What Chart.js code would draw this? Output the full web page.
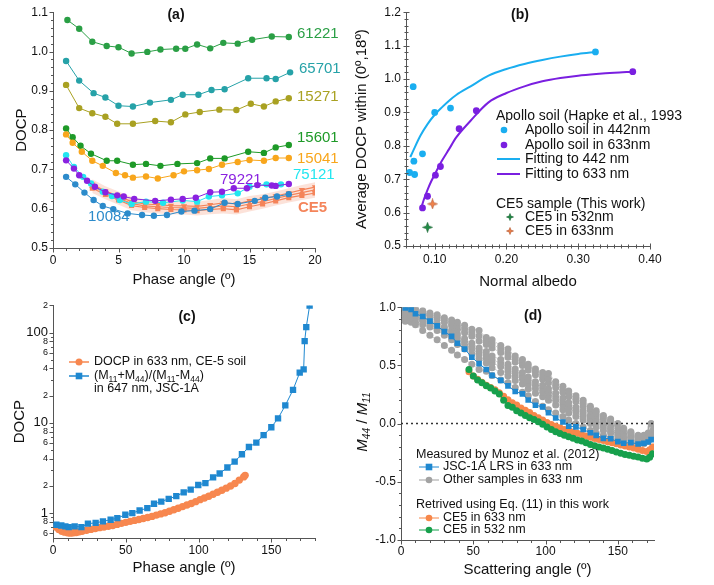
<!DOCTYPE html>
<html>
<head>
<meta charset="utf-8">
<script src="https://cdn.jsdelivr.net/npm/chart.js@4.4.0/dist/chart.umd.min.js"></script>
<style>
  html, body { margin: 0; padding: 0; background: #fff; }
  #wrap { position: relative; width: 714px; height: 585px; overflow: hidden; }
  canvas { position: absolute; }
</style>
</head>
<body>
<div id="wrap">
  <canvas id="cA" width="357" height="295" style="left:0px;top:0px"></canvas>
  <canvas id="cB" width="369" height="295" style="left:345px;top:0px"></canvas>
  <canvas id="cC" width="357" height="290" style="left:0px;top:295px"></canvas>
  <canvas id="cD" width="369" height="290" style="left:345px;top:295px"></canvas>
</div>
<script>
// ---------- panel (a): DOCP vs phase angle ----------
const A_X_TICKS = [0, 5, 10, 15, 20];
const A_Y_TICKS = [0.5, 0.6, 0.7, 0.8, 0.9, 1.0, 1.1];

const A61221_X = [1.1, 2, 3, 4.1, 5, 6, 7.2, 8.2, 9.4, 10.1, 11, 12, 13, 14.1, 15.2, 16.7, 18];
const A61221_Y = [1.08, 1.058, 1.025, 1.014, 1.011, 0.995, 0.999, 1.005, 1.007, 1.007, 1.018, 1.008, 1.022, 1.02, 1.03, 1.038, 1.037];
const A65701_X = [1, 2, 3.1, 4, 5, 6.1, 7.4, 9, 9.9, 11.1, 12.1, 13.1, 14.9, 16.3, 17, 18.1];
const A65701_Y = [0.976, 0.926, 0.894, 0.883, 0.862, 0.86, 0.87, 0.877, 0.89, 0.89, 0.902, 0.904, 0.932, 0.932, 0.93, 0.947];
const A15271_X = [1, 2, 3, 4, 4.9, 6.1, 7.8, 9, 10.1, 11.2, 12.7, 14, 15.1, 16.1, 17, 18];
const A15271_Y = [0.915, 0.856, 0.843, 0.834, 0.816, 0.816, 0.823, 0.82, 0.84, 0.846, 0.852, 0.851, 0.867, 0.86, 0.873, 0.881];
const A15601_X = [1, 1.5, 2.1, 2.9, 4.1, 4.9, 6.1, 7.1, 8.2, 9.5, 11, 12, 13.1, 14.9, 16.1, 17, 18];
const A15601_Y = [0.804, 0.782, 0.76, 0.74, 0.722, 0.722, 0.712, 0.714, 0.709, 0.714, 0.716, 0.728, 0.728, 0.745, 0.742, 0.756, 0.762];
const A15041_X = [1, 1.5, 2.2, 3, 3.8, 4.8, 5.5, 6.1, 7.1, 8, 9.2, 10, 11, 11.9, 12.9, 14.1, 15, 16.1, 17, 18];
const A15041_Y = [0.789, 0.768, 0.745, 0.722, 0.709, 0.691, 0.685, 0.679, 0.682, 0.677, 0.685, 0.695, 0.698, 0.701, 0.712, 0.719, 0.724, 0.722, 0.729, 0.729];
const A79221_X = [1, 1.6, 2, 2.6, 3.2, 4, 4.9, 5.4, 6.2, 7.8, 9, 9.9, 10.9, 12, 12.9, 13.8, 14.8, 15.6, 16.7, 17, 18];
const A79221_Y = [0.723, 0.702, 0.685, 0.671, 0.656, 0.642, 0.634, 0.631, 0.625, 0.62, 0.623, 0.625, 0.628, 0.642, 0.643, 0.652, 0.652, 0.66, 0.659, 0.658, 0.663];
const A75121_X = [1, 1.6, 2.3, 2.9, 3.8, 4.5, 5.1, 6, 7.1, 8.4, 9.9, 11, 11.9, 12.9, 14.1, 15, 16.3, 17.4];
const A75121_Y = [0.736, 0.706, 0.681, 0.664, 0.643, 0.632, 0.622, 0.612, 0.618, 0.615, 0.621, 0.618, 0.631, 0.634, 0.639, 0.656, 0.662, 0.662];
const A10084_X = [1, 1.7, 2.4, 3.1, 3.8, 4.6, 5.7, 6.8, 7.7, 8.7, 9.8, 10.8, 12, 13.1, 14.1, 15.4, 16.2, 17.1, 18];
const A10084_Y = [0.681, 0.662, 0.641, 0.622, 0.607, 0.599, 0.588, 0.584, 0.582, 0.584, 0.593, 0.595, 0.599, 0.615, 0.612, 0.62, 0.628, 0.631, 0.637];

const CE5_X = [3, 4, 5, 6, 7, 8, 9, 10, 11, 12, 13, 14, 15, 16, 17, 18, 19, 20];
const CE5_A = [0.662, 0.645, 0.632, 0.618, 0.612, 0.61, 0.608, 0.607, 0.606, 0.61, 0.615, 0.612, 0.62, 0.625, 0.632, 0.64, 0.648, 0.655];
const CE5_B = [0.652, 0.636, 0.622, 0.608, 0.603, 0.6, 0.598, 0.597, 0.595, 0.598, 0.6, 0.597, 0.605, 0.612, 0.62, 0.628, 0.634, 0.64];
const CE5_C = [0.657, 0.64, 0.627, 0.613, 0.607, 0.605, 0.603, 0.602, 0.601, 0.604, 0.607, 0.605, 0.612, 0.618, 0.626, 0.634, 0.641, 0.648];
const CE5_HI = [0.675, 0.657, 0.644, 0.63, 0.624, 0.622, 0.62, 0.619, 0.618, 0.622, 0.627, 0.624, 0.632, 0.637, 0.644, 0.652, 0.66, 0.667];
const CE5_LO = [0.64, 0.624, 0.61, 0.596, 0.591, 0.588, 0.586, 0.585, 0.583, 0.586, 0.588, 0.585, 0.593, 0.6, 0.608, 0.616, 0.622, 0.628];

// ---------- panel (b): average DOCP vs normal albedo ----------
const B_X_TICKS = [0.1, 0.2, 0.3, 0.4];
const B_Y_TICKS = [0.5, 0.6, 0.7, 0.8, 0.9, 1.0, 1.1, 1.2];
const B442_X = [0.065, 0.072, 0.071, 0.083, 0.070, 0.100, 0.122, 0.324];
const B442_Y = [0.720, 0.714, 0.754, 0.776, 0.977, 0.900, 0.913, 1.081];
const B633_X = [0.083, 0.090, 0.101, 0.108, 0.134, 0.158, 0.376];
const B633_Y = [0.614, 0.649, 0.712, 0.738, 0.851, 0.905, 1.022];
const FIT442_X = [0.066, 0.07, 0.08, 0.09, 0.10, 0.11, 0.12, 0.13, 0.15, 0.175, 0.20, 0.225, 0.25, 0.275, 0.30, 0.325];
const FIT442_Y = [0.766, 0.785, 0.83, 0.865, 0.893, 0.915, 0.935, 0.952, 0.978, 1.01, 1.03, 1.045, 1.057, 1.067, 1.075, 1.081];
const FIT633_X = [0.081, 0.085, 0.09, 0.095, 0.10, 0.11, 0.12, 0.13, 0.15, 0.175, 0.20, 0.225, 0.25, 0.275, 0.30, 0.325, 0.35, 0.376];
const FIT633_Y = [0.612, 0.64, 0.668, 0.693, 0.714, 0.755, 0.79, 0.825, 0.875, 0.93, 0.958, 0.978, 0.993, 1.003, 1.01, 1.015, 1.019, 1.022];
const STAR532 = [0.090, 0.556];
const STAR633 = [0.097, 0.626];

// ---------- panel (c): DOCP vs phase angle, log scale ----------
const C_X_TICKS = [0, 50, 100, 150];
const C_Y_TICKS = [0.6, 0.7, 0.8, 0.9, 1, 2, 3, 4, 5, 6, 7, 8, 9, 10, 20, 30, 40, 50, 60, 70, 80, 90, 100, 200];
const C_Y_LABELS = ['6', '', '8', '', '1', '2', '', '4', '', '6', '', '8', '', '10', '2', '', '4', '', '6', '', '8', '', '100', '2'];
const C_CE_X = [2, 4, 6, 8, 10, 12, 14, 16, 18, 20, 23, 26, 29, 32, 35, 38, 41, 44, 47, 50, 53, 56, 59, 62, 65, 68, 71, 74, 77, 80, 83, 86, 89, 92, 95, 98, 101, 104, 107, 110, 113, 116, 119, 122, 125, 128, 131, 132];
const C_CE_Y = [0.70, 0.66, 0.63, 0.615, 0.605, 0.60, 0.605, 0.61, 0.62, 0.63, 0.645, 0.66, 0.675, 0.69, 0.70, 0.715, 0.73, 0.75, 0.77, 0.79, 0.81, 0.83, 0.85, 0.87, 0.895, 0.92, 0.95, 0.98, 1.01, 1.05, 1.09, 1.13, 1.18, 1.23, 1.28, 1.34, 1.41, 1.47, 1.54, 1.62, 1.70, 1.79, 1.89, 2.0, 2.13, 2.32, 2.52, 2.62];
const C_JSC_X = [2.3, 5.7, 8.5, 10.8, 14.9, 19.5, 24, 29.3, 34.3, 39.6, 44.2, 49.7, 54.5, 59.5, 64.8, 69.4, 74.4, 79.5, 84.7, 89.8, 94.6, 99.8, 104.7, 110, 114.5, 119.8, 124.8, 129.8, 134.6, 139.7, 144.7, 150, 154.6, 159.6, 164.9, 169.5, 172.2, 172.9, 174, 176.3];
const C_JSC_Y = [0.744, 0.73, 0.714, 0.70, 0.714, 0.70, 0.764, 0.78, 0.81, 0.845, 0.88, 0.958, 1.0, 1.07, 1.135, 1.27, 1.34, 1.44, 1.54, 1.70, 1.82, 2.05, 2.15, 2.49, 2.75, 3.2, 3.72, 4.49, 5.4, 6.03, 7.32, 8.94, 11.2, 15.6, 23.2, 36, 39.1, 80.5, 115, 199];

// ---------- panel (d): M44/M11 vs scattering angle ----------
const D_X_TICKS = [0, 50, 100, 150];
const D_Y_TICKS = [-1, -0.5, 0, 0.5, 1];
const ANG_D = [3, 7, 10, 15, 20, 25, 30, 35, 39, 44, 49, 54, 59, 63, 69, 74, 79, 84, 88, 93, 98, 102, 107, 112, 116, 121, 126, 131, 135, 140, 145, 150, 154, 159, 164, 168, 171, 173];
const JSC_D = [0.994, 0.98, 0.944, 0.92, 0.88, 0.84, 0.79, 0.75, 0.69, 0.64, 0.57, 0.515, 0.465, 0.414, 0.372, 0.324, 0.276, 0.256, 0.203, 0.158, 0.144, 0.093, 0.048, 0.014, -0.023, -0.028, -0.051, -0.079, -0.101, -0.127, -0.13, -0.155, -0.169, -0.163, -0.175, -0.169, -0.158, -0.138];
const GRAY1 = [1.0, 0.99, 0.985, 0.97, 0.95, 0.935, 0.91, 0.89, 0.87, 0.845, 0.81, 0.8, 0.74, 0.72, 0.67, 0.64, 0.58, 0.55, 0.51, 0.47, 0.44, 0.43, 0.36, 0.32, 0.28, 0.24, 0.2, 0.15, 0.11, 0.07, 0.04, 0.0, -0.04, -0.07, -0.1, -0.1, -0.08, 0.0];
const GRAY7 = [0.99, 0.98, 0.972, 0.955, 0.935, 0.918, 0.89, 0.865, 0.84, 0.812, 0.78, 0.755, 0.71, 0.685, 0.64, 0.605, 0.555, 0.525, 0.485, 0.445, 0.41, 0.39, 0.335, 0.295, 0.255, 0.215, 0.175, 0.13, 0.09, 0.055, 0.025, -0.015, -0.05, -0.08, -0.11, -0.11, -0.09, -0.03];
const GRAY2 = [0.98, 0.97, 0.96, 0.94, 0.92, 0.9, 0.87, 0.84, 0.81, 0.78, 0.75, 0.71, 0.68, 0.65, 0.61, 0.57, 0.53, 0.5, 0.46, 0.42, 0.38, 0.35, 0.31, 0.27, 0.23, 0.19, 0.15, 0.11, 0.07, 0.04, 0.01, -0.03, -0.06, -0.09, -0.12, -0.12, -0.1, -0.05];
const GRAY3 = [0.95, 0.94, 0.93, 0.91, 0.89, 0.86, 0.83, 0.8, 0.77, 0.73, 0.69, 0.65, 0.62, 0.58, 0.55, 0.51, 0.47, 0.44, 0.4, 0.36, 0.33, 0.3, 0.26, 0.22, 0.18, 0.14, 0.11, 0.07, 0.04, 0.01, -0.02, -0.06, -0.09, -0.11, -0.14, -0.14, -0.12, -0.08];
const GRAY8 = [0.935, 0.925, 0.915, 0.895, 0.87, 0.84, 0.81, 0.775, 0.745, 0.705, 0.665, 0.625, 0.59, 0.55, 0.52, 0.48, 0.44, 0.41, 0.37, 0.33, 0.3, 0.27, 0.23, 0.19, 0.155, 0.12, 0.085, 0.05, 0.02, -0.01, -0.04, -0.075, -0.1, -0.12, -0.15, -0.15, -0.13, -0.09];
const GRAY4 = [0.92, 0.91, 0.9, 0.88, 0.85, 0.82, 0.79, 0.75, 0.72, 0.68, 0.64, 0.6, 0.56, 0.52, 0.49, 0.45, 0.41, 0.38, 0.34, 0.3, 0.27, 0.24, 0.2, 0.16, 0.13, 0.1, 0.06, 0.03, 0.0, -0.03, -0.06, -0.09, -0.11, -0.13, -0.16, -0.16, -0.14, -0.1];
const GRAY5 = [0.9, 0.89, 0.87, 0.85, 0.83, 0.8, 0.76, 0.72, 0.68, 0.64, 0.6, 0.56, 0.52, 0.48, 0.44, 0.41, 0.37, 0.34, 0.3, 0.26, 0.23, 0.2, 0.16, 0.12, 0.09, 0.06, 0.03, 0.0, -0.03, -0.06, -0.08, -0.11, -0.13, -0.15, -0.17, -0.17, -0.15, -0.12];
const GRAY6 = [0.88, 0.87, 0.85, 0.8, 0.76, 0.72, 0.67, 0.63, 0.59, 0.55, 0.51, 0.465, 0.45, 0.414, 0.375, 0.35, 0.31, 0.27, 0.24, 0.19, 0.15, 0.12, 0.09, 0.06, 0.03, 0.0, -0.03, -0.06, -0.08, -0.1, -0.12, -0.14, -0.15, -0.17, -0.18, -0.17, -0.15, -0.1];
const D_CE_X = [47, 50, 53, 56, 59, 62, 65, 68, 71, 74, 77, 80, 83, 86, 89, 92, 95, 98, 101, 104, 107, 110, 113, 116, 119, 122, 125, 128, 131, 134, 137, 140, 143, 146, 149, 152, 155, 158, 161, 164, 167, 170, 172, 174];
const D_CE633 = [0.445, 0.41, 0.38, 0.355, 0.33, 0.31, 0.29, 0.265, 0.235, 0.205, 0.18, 0.16, 0.135, 0.115, 0.095, 0.07, 0.05, 0.03, 0.01, -0.008, -0.022, -0.036, -0.05, -0.06, -0.072, -0.082, -0.094, -0.106, -0.118, -0.127, -0.136, -0.145, -0.155, -0.165, -0.174, -0.183, -0.192, -0.201, -0.21, -0.22, -0.232, -0.24, -0.225, -0.2];
const D_CE532 = [0.465, 0.41, 0.375, 0.35, 0.325, 0.305, 0.28, 0.255, 0.2, 0.155, 0.14, 0.11, 0.09, 0.07, 0.05, 0.035, 0.015, -0.005, -0.03, -0.05, -0.07, -0.085, -0.1, -0.112, -0.125, -0.14, -0.15, -0.165, -0.18, -0.19, -0.2, -0.21, -0.22, -0.232, -0.245, -0.255, -0.265, -0.272, -0.28, -0.288, -0.298, -0.305, -0.29, -0.26];
const ZERO_X = [0, 175];
const ZERO_Y = [0, 0];

// ---------- styling ----------
const FONT = "'Liberation Sans', Arial, Helvetica, sans-serif";
Chart.defaults.font.family = FONT;
Chart.defaults.font.size = 12;
Chart.defaults.color = '#111';
Chart.defaults.animation = false;
Chart.defaults.events = [];
Chart.defaults.plugins.legend.display = false;
Chart.defaults.plugins.tooltip.enabled = false;

const pts = (xs, ys) => xs.map((x, i) => ({ x, y: ys[i] }));

function makeStar(fill, stroke, size) {
    const c = document.createElement('canvas');
    c.width = c.height = size;
    const g = c.getContext('2d');
    const m = size / 2, R = size / 2 - 0.5, r = R * 0.36;
    g.beginPath();
    for (let k = 0; k < 8; k++) {
        const a = -Math.PI / 2 + k * Math.PI / 4;
        const rr = k % 2 ? r : R;
        g.lineTo(m + rr * Math.cos(a), m + rr * Math.sin(a));
    }
    g.closePath();
    g.fillStyle = fill;
    g.fill();
    g.strokeStyle = stroke;
    g.lineWidth = 0.6;
    g.stroke();
    return c;
}

// axis with fixed tick list and fixed box size
function axis(o) {
    return {
        type: o.type || 'linear',
        min: o.min,
        max: o.max,
        afterBuildTicks: s => { s.ticks = o.ticks.map(v => ({ value: v })); },
        afterFit: s => { if (o.w) s.width = o.w; if (o.h) s.height = o.h; },
        grid: { display: false, drawTicks: false },
        border: { display: true, color: '#555', width: 1 },
        ticks: { padding: o.pad, autoSkip: false, maxRotation: 0, color: '#111', font: o.font || { size: 12 }, callback: o.label },
        title: o.title ? { display: true, text: o.title, color: '#111', font: { size: 15 }, padding: o.tpad } : { display: false }
    };
}

function drawTickMarks(chart, cfg) {
    const { ctx, chartArea: ca } = chart;
    ctx.save();
    ctx.strokeStyle = '#555';
    ctx.lineWidth = 1;
    ctx.beginPath();
    ['x', 'y'].forEach(id => {
        const s = chart.scales[id], o = cfg[id];
        if (!s || !o) return;
        const marks = s.ticks.map(t => t.label === '' ? [t.value, o.minorLen, o.minorIn || 0] : [t.value, o.len, o.in || 0]);
        if (o.minor) {
            const n = Math.floor((s.max - s.min) / o.minor + 1e-6);
            for (let i = 0; i <= n; i++) {
                const v = s.min + i * o.minor;
                if (!s.ticks.some(t => Math.abs(t.value - v) < o.minor / 10)) marks.push([v, o.minorLen, o.minorIn || 0]);
            }
        }
        marks.forEach(([v, out, inn]) => {
            const p = Math.round(s.getPixelForValue(v)) + 0.5;
            if (id === 'x') {
                const b = Math.round(ca.bottom) + 0.5;
                ctx.moveTo(p, b - inn);
                ctx.lineTo(p, b + out);
            } else {
                const l = Math.round(ca.left) + 0.5;
                ctx.moveTo(l - out, p);
                ctx.lineTo(l + inn, p);
            }
        });
    });
    ctx.stroke();
    ctx.restore();
}

function drawItem(ctx, it) {
    ctx.save();
    if (it.line) {
        ctx.strokeStyle = it.color;
        ctx.lineWidth = it.lw || 1;
        ctx.beginPath();
        ctx.moveTo(it.line[0], it.y);
        ctx.lineTo(it.line[1], it.y);
        ctx.stroke();
    }
    if (it.marker === 'circle') {
        ctx.fillStyle = it.mcolor || it.color;
        ctx.beginPath();
        ctx.arc(it.mx, it.y, it.r || 3.5, 0, Math.PI * 2);
        ctx.fill();
    } else if (it.marker === 'rect') {
        const h = it.r || 3.5;
        ctx.fillStyle = it.color;
        ctx.fillRect(it.mx - h, it.y - h, 2 * h, 2 * h);
    } else if (it.marker === 'image') {
        ctx.drawImage(it.img, it.mx - it.img.width / 2, it.y - it.img.height / 2);
    }
    if (it.text || it.parts) {
        const size = it.size || 12;
        const parts = it.parts || [{ t: it.text }];
        const fontOf = p => (p.i ? 'italic ' : '') + (it.bold ? 'bold ' : '') + (p.sub ? size * 0.68 : size) + 'px ' + FONT;
        let w = 0;
        const widths = parts.map(p => { ctx.font = fontOf(p); const pw = ctx.measureText(p.t).width; w += pw; return pw; });
        ctx.translate(it.tx !== undefined ? it.tx : it.x, it.y);
        if (it.rotate) ctx.rotate(-Math.PI / 2);
        let x = it.align === 'center' ? -w / 2 : 0;
        ctx.fillStyle = it.tcolor || '#111';
        ctx.textBaseline = 'middle';
        ctx.textAlign = 'left';
        parts.forEach((p, k) => {
            ctx.font = fontOf(p);
            ctx.fillText(p.t, x, p.sub ? size * 0.3 : 0);
            x += widths[k];
        });
    }
    ctx.restore();
}

function overlay(items, ticks) {
    return {
        id: 'overlay',
        afterDraw(chart) {
            drawTickMarks(chart, ticks);
            items.forEach(it => drawItem(chart.ctx, it));
        }
    };
}

const C_GREEN1 = '#2a9f45', C_TEAL = '#26a2a8', C_OLIVE = '#a9a122', C_GREEN2 = '#1e9a28';
const C_ORANGE = '#f8a61c', C_PURPLE = '#8a22e0', C_CYAN = '#22e6f0', C_BLUE = '#2c8bcb', C_SALMON = '#f4845a';

function sample(xs, ys, color) {
    return { data: pts(xs, ys), borderColor: color, backgroundColor: color, borderWidth: 1,
             pointRadius: 3.2, pointBorderWidth: 0, pointBackgroundColor: color };
}
function ce5(ys, style, rot) {
    return { data: pts(CE5_X, ys), borderColor: C_SALMON, backgroundColor: C_SALMON, borderWidth: 1.2,
             pointStyle: style, pointRotation: rot || 0, pointRadius: 3.6, pointBorderWidth: 0, pointBackgroundColor: C_SALMON };
}

// ---------- chart (a) ----------
new Chart(document.getElementById('cA'), {
    type: 'line',
    data: {
        datasets: [
            sample(A10084_X, A10084_Y, C_BLUE),
            sample(A79221_X, A79221_Y, C_PURPLE),
            sample(A75121_X, A75121_Y, C_CYAN),
            sample(A15041_X, A15041_Y, C_ORANGE),
            sample(A15601_X, A15601_Y, C_GREEN2),
            sample(A15271_X, A15271_Y, C_OLIVE),
            sample(A65701_X, A65701_Y, C_TEAL),
            sample(A61221_X, A61221_Y, C_GREEN1),
            ce5(CE5_A, 'triangle', 180),
            ce5(CE5_C, 'triangle', 0),
            ce5(CE5_B, 'rect', 0),
            { data: pts(CE5_X, CE5_HI), borderWidth: 0, pointRadius: 0, fill: '+1', backgroundColor: 'rgba(246,160,130,0.3)' },
            { data: pts(CE5_X, CE5_LO), borderWidth: 0, pointRadius: 0, fill: false }
        ]
    },
    options: {
        responsive: false,
        layout: { padding: { left: 0, top: 11, right: 42, bottom: 0 } },
        scales: {
            x: axis({ min: 0, max: 20, ticks: A_X_TICKS, h: 47, pad: 5, label: v => String(v),
                      title: 'Phase angle (º)', tpad: { top: 0, bottom: 6 } }),
            y: axis({ min: 0.5, max: 1.1, ticks: A_Y_TICKS, w: 53, pad: 5, label: v => v.toFixed(1),
                      title: 'DOCP', tpad: { top: 13, bottom: 0 } })
        }
    },
    plugins: [overlay([
        { text: '(a)', x: 176, y: 15, size: 14, bold: true, align: 'center' },
        { text: '61221', x: 297, y: 34, size: 15, tcolor: C_GREEN1 },
        { text: '65701', x: 299, y: 69, size: 15, tcolor: C_TEAL },
        { text: '15271', x: 297, y: 97, size: 15, tcolor: C_OLIVE },
        { text: '15601', x: 297, y: 138, size: 15, tcolor: C_GREEN2 },
        { text: '15041', x: 297, y: 159, size: 15, tcolor: C_ORANGE },
        { text: '79221', x: 220, y: 180, size: 15, tcolor: C_PURPLE },
        { text: '75121', x: 293, y: 175, size: 15, tcolor: C_CYAN },
        { text: 'CE5', x: 298, y: 208, size: 15, bold: true, tcolor: C_SALMON },
        { text: '10084', x: 88, y: 217, size: 15, tcolor: C_BLUE }
    ], {
        x: { len: 4, minor: 1, minorLen: 2.5 },
        y: { len: 4, minor: 0.02, minorLen: 2.5 }
    })]
});

// ---------- chart (b) ----------
const B_BLUE = '#1aaef0', B_PURPLE = '#7a1fe0';
const starG = makeStar('#1e8c44', '#0e5a28', 11);
const starO = makeStar('#f0824a', '#b0502a', 11);
const starGs = makeStar('#1e8c44', '#0e5a28', 8);
const starOs = makeStar('#f0824a', '#b0502a', 8);

new Chart(document.getElementById('cB'), {
    type: 'line',
    data: {
        datasets: [
            { data: pts([STAR532[0]], [STAR532[1]]), showLine: false, pointStyle: starG, pointRadius: 5 },
            { data: pts([STAR633[0]], [STAR633[1]]), showLine: false, pointStyle: starO, pointRadius: 5 },
            { data: pts(B442_X, B442_Y), showLine: false, pointRadius: 3.4, pointBorderWidth: 0, pointBackgroundColor: B_BLUE },
            { data: pts(B633_X, B633_Y), showLine: false, pointRadius: 3.4, pointBorderWidth: 0, pointBackgroundColor: B_PURPLE },
            { data: pts(FIT442_X, FIT442_Y), borderColor: B_BLUE, borderWidth: 2, pointRadius: 0, cubicInterpolationMode: 'monotone' },
            { data: pts(FIT633_X, FIT633_Y), borderColor: B_PURPLE, borderWidth: 2, pointRadius: 0, cubicInterpolationMode: 'monotone' }
        ]
    },
    options: {
        responsive: false,
        layout: { padding: { left: 0, top: 11, right: 64, bottom: 0 } },
        scales: {
            x: axis({ min: 0.06, max: 0.40, ticks: B_X_TICKS, h: 49, pad: 6, label: v => v.toFixed(2),
                      title: 'Normal albedo', tpad: { top: 0, bottom: 4 } }),
            y: axis({ min: 0.5, max: 1.2, ticks: B_Y_TICKS, w: 61, pad: 5, label: v => v.toFixed(1),
                      title: 'Average DOCP within (0º,18º)', tpad: { top: 8, bottom: 0 } })
        }
    },
    plugins: [overlay([
        { text: '(b)', x: 175, y: 15, size: 14, bold: true, align: 'center' },
        { text: 'Apollo soil (Hapke et al., 1993', x: 151, y: 116, size: 14 },
        { marker: 'circle', mx: 159, r: 3.3, color: B_BLUE, text: 'Apollo soil in 442nm', tx: 180, y: 130, size: 14 },
        { marker: 'circle', mx: 159, r: 3.3, color: B_PURPLE, text: 'Apollo soil in 633nm', tx: 180, y: 145, size: 14 },
        { line: [152, 175], lw: 2, color: B_BLUE, text: 'Fitting to 442 nm', tx: 180, y: 159, size: 14 },
        { line: [152, 175], lw: 2, color: B_PURPLE, text: 'Fitting to 633 nm', tx: 180, y: 174, size: 14 },
        { text: 'CE5 sample (This work)', x: 151, y: 204, size: 14 },
        { marker: 'image', mx: 165, img: starGs, text: 'CE5 in 532nm', tx: 180, y: 217, size: 14 },
        { marker: 'image', mx: 165, img: starOs, text: 'CE5 in 633nm', tx: 180, y: 231, size: 14 }
    ], {
        x: { len: 3, in: 3, minor: 0.01, minorLen: 2, minorIn: 2 },
        y: { len: 3, in: 3, minor: 0.02, minorLen: 2, minorIn: 2 }
    })]
});

// ---------- chart (c) ----------
const CC_ORANGE = '#f7874f', CC_BLUE = '#1f88d0';
new Chart(document.getElementById('cC'), {
    type: 'line',
    data: {
        datasets: [
            { data: pts(C_JSC_X, C_JSC_Y), borderColor: CC_BLUE, borderWidth: 1, pointStyle: 'rect', pointRadius: 4.5,
              pointBorderWidth: 0, pointBackgroundColor: CC_BLUE },
            { data: pts(C_CE_X, C_CE_Y), borderColor: CC_ORANGE, borderWidth: 1, pointRadius: 3.7,
              pointBorderWidth: 0, pointBackgroundColor: CC_ORANGE }
        ]
    },
    options: {
        responsive: false,
        layout: { padding: { left: 0, top: 8, right: 42, bottom: 0 } },
        scales: {
            x: axis({ min: 0, max: 180, ticks: C_X_TICKS, h: 47, pad: 5, label: v => String(v),
                      title: 'Phase angle (º)', tpad: { top: 0, bottom: 8 } }),
            y: axis({ type: 'logarithmic', min: 0.53, max: 200, ticks: C_Y_TICKS, w: 53, pad: 5,
                      label: (v, i) => C_Y_LABELS[i],
                      font: ctx => ({ size: ['1', '10', '100'].includes(C_Y_LABELS[ctx.index]) ? 13 : 9 }),
                      title: 'DOCP', tpad: { top: 11, bottom: 0 } })
        }
    },
    plugins: [overlay([
        { text: '(c)', x: 187, y: 22, size: 14, bold: true, align: 'center' },
        { line: [69, 89], lw: 1.5, color: CC_ORANGE, marker: 'circle', mx: 79, r: 3.5,
          text: 'DOCP in 633 nm, CE-5 soil', tx: 94, y: 67, size: 12.5 },
        { line: [69, 89], lw: 1.5, color: CC_BLUE, marker: 'rect', mx: 79, r: 3.3, tx: 94, y: 81, size: 12.5,
          parts: [{ t: '(M' }, { t: '11', sub: true }, { t: '+M' }, { t: '44', sub: true }, { t: ')/(M' },
                  { t: '11', sub: true }, { t: '-M' }, { t: '44', sub: true }, { t: ')' }] },
        { text: 'in 647 nm, JSC-1A', x: 94, y: 94, size: 12.5 }
    ], {
        x: { len: 4, minor: 10, minorLen: 2.5 },
        y: { len: 4, minorLen: 2.5 }
    })]
});

// ---------- chart (d) ----------
const D_BLUE = '#1f88d0', D_ORANGE = '#f7874a', D_GREEN = '#17a04c', D_GRAY = '#a3a3a3', D_GRAYLINE = '#cfcfcf';
function gray(ys) {
    return { data: pts(ANG_D, ys), borderColor: D_GRAYLINE, borderWidth: 1, pointRadius: 3.5,
             pointBorderWidth: 0, pointBackgroundColor: D_GRAY };
}
new Chart(document.getElementById('cD'), {
    type: 'line',
    data: {
        datasets: [
            { data: pts(ANG_D, JSC_D), borderColor: D_BLUE, borderWidth: 1, pointStyle: 'rect', pointRadius: 4,
              pointBorderWidth: 0, pointBackgroundColor: D_BLUE },
            { data: pts(D_CE_X, D_CE532), borderColor: D_GREEN, borderWidth: 1, pointRadius: 3.5,
              pointBorderWidth: 0, pointBackgroundColor: D_GREEN },
            { data: pts(D_CE_X, D_CE633), borderColor: D_ORANGE, borderWidth: 1, pointRadius: 3.5,
              pointBorderWidth: 0, pointBackgroundColor: D_ORANGE },
            { data: pts(ZERO_X, ZERO_Y), borderColor: '#333', borderWidth: 1.5, borderDash: [2, 3], pointRadius: 0 },
            gray(GRAY1), gray(GRAY7), gray(GRAY2), gray(GRAY3), gray(GRAY8), gray(GRAY4), gray(GRAY5), gray(GRAY6)
        ]
    },
    options: {
        responsive: false,
        layout: { padding: { left: 0, top: 8, right: 60, bottom: 0 } },
        scales: {
            x: axis({ min: 0, max: 175, ticks: D_X_TICKS, h: 45, pad: 4, label: v => String(v),
                      title: 'Scattering angle (º)', tpad: { top: 0, bottom: 6 } }),
            y: axis({ min: -1, max: 1, ticks: D_Y_TICKS, w: 56, pad: 5, label: v => v.toFixed(1) })
        }
    },
    plugins: [overlay([
        { text: '(d)', x: 188, y: 21, size: 14, bold: true, align: 'center' },
        { x: 18, y: 127, rotate: true, align: 'center', size: 15,
          parts: [{ t: 'M', i: true }, { t: '44', sub: true, i: true }, { t: ' / ' }, { t: 'M', i: true }, { t: '11', sub: true, i: true }] },
        { text: 'Measured by Munoz et al. (2012)', x: 71, y: 160, size: 12.5 },
        { line: [74, 94], color: D_BLUE, marker: 'rect', mx: 84, r: 3.3, text: 'JSC-1A LRS in 633 nm', tx: 98, y: 172, size: 12.5 },
        { line: [74, 94], color: D_GRAYLINE, lw: 2, marker: 'circle', mcolor: D_GRAY, mx: 84, r: 3.3, text: 'Other samples in 633 nm', tx: 98, y: 185, size: 12.5 },
        { text: 'Retrived using Eq. (11) in this work', x: 71, y: 210, size: 12.5 },
        { line: [74, 94], color: D_ORANGE, marker: 'circle', mx: 84, r: 3.3, text: 'CE5 in 633 nm', tx: 98, y: 223, size: 12.5 },
        { line: [74, 94], color: D_GREEN, marker: 'circle', mx: 84, r: 3.3, text: 'CE5 in 532 nm', tx: 98, y: 235, size: 12.5 }
    ], {
        x: { len: 4, minor: 10, minorLen: 2.5 },
        y: { len: 4, minor: 0.1, minorLen: 2.5 }
    })]
});
</script>
</body>
</html>
